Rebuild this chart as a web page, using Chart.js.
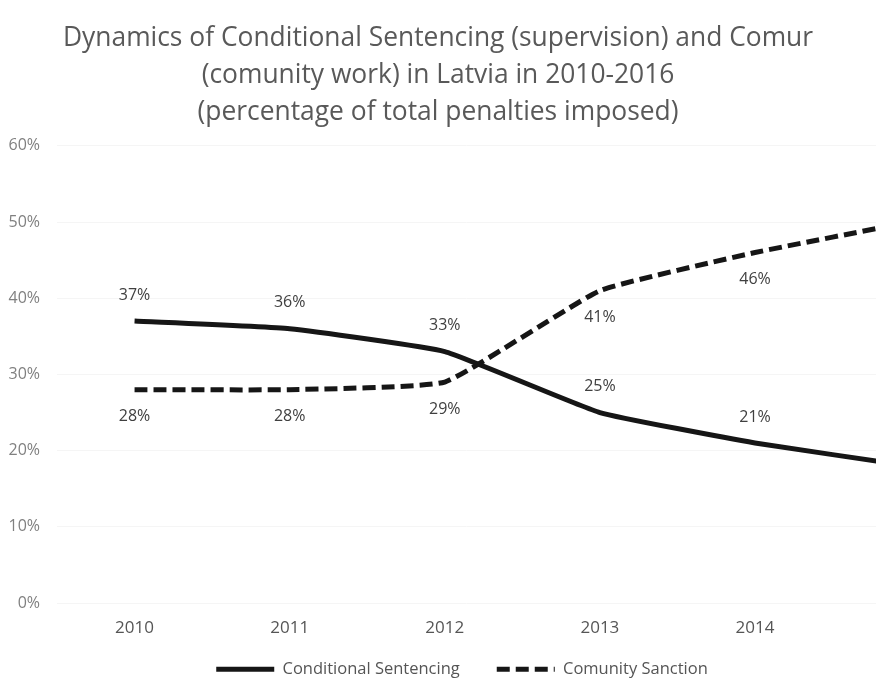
<!DOCTYPE html>
<html>
<head>
<meta charset="utf-8">
<script src="https://cdn.jsdelivr.net/npm/chart.js@4/dist/chart.umd.min.js"></script>
<style>
  html, body { margin: 0; padding: 0; background: #fff; overflow: hidden; }
  #wrap { width: 876px; height: 680px; position: relative; }
</style>
</head>
<body>
<div id="wrap"><canvas id="penaltyChart"></canvas></div>
<script>
// years shown on the axis; the series run on into 2015 past the right edge
const years = [2010, 2011, 2012, 2013, 2014];
const seriesYears = [2010, 2011, 2012, 2013, 2014, 2015];
const conditionalSentencing = [37, 36, 33, 25, 21, 18];
const comunitySanction = [28, 28, 29, 41, 46, 50];
const yTicks = [0, 10, 20, 30, 40, 50, 60];

const FONT = '"Open Sans", "Noto Sans", sans-serif';

function toPoints(values) {
    return values.map((v, i) => ({x: seriesYears[i], y: v}));
}

// percentage labels: solid line labelled above, dashed line below
const valueLabels = {
    id: 'valueLabels',
    afterDatasetsDraw(chart) {
        const ctx = chart.ctx;
        ctx.save();
        ctx.font = '16px ' + FONT;
        ctx.fillStyle = '#404040';
        ctx.textAlign = 'center';
        ctx.textBaseline = 'middle';
        chart.data.datasets.forEach((ds, i) => {
            const meta = chart.getDatasetMeta(i);
            const shift = i === 0 ? -26 : 27;
            meta.data.forEach((pt, j) => {
                if (!years.includes(ds.data[j].x)) return;
                ctx.fillText(ds.data[j].y + '%', pt.x, pt.y + shift);
            });
        });
        ctx.restore();
    }
};

// legend sits a little right of centre and tighter under the axis
const legendNudge = {
    id: 'legendNudge',
    afterLayout(chart) {
        const lg = chart.legend;
        lg.left += 24;
        lg.right += 24;
        lg.top -= 15;
        lg.bottom -= 15;
    }
};

function legendLabels(chart) {
    const items = Chart.defaults.plugins.legend.labels.generateLabels(chart);
    items.forEach((item) => {
        const ds = chart.data.datasets[item.datasetIndex];
        item.lineDash = ds.borderDash || [];
        item.lineWidth = ds.borderWidth;
        item.strokeStyle = ds.borderColor;
    });
    return items;
}

function setupChart() {
    const ctx = document.getElementById('penaltyChart');

    return new Chart(ctx, {
        type: 'line',
        data: {
            datasets: [{
                label: 'Conditional Sentencing',
                data: toPoints(conditionalSentencing),
                borderColor: '#161616',
                backgroundColor: '#161616',
                borderWidth: 5,
                pointRadius: 0,
                tension: 0.12
            }, {
                label: 'Comunity Sanction',
                data: toPoints(comunitySanction),
                borderColor: '#161616',
                backgroundColor: '#161616',
                borderWidth: 5,
                borderDash: [13, 6],
                pointRadius: 0,
                tension: 0.12
            }]
        },
        options: {
            responsive: true,
            maintainAspectRatio: false,
            animation: false,
            layout: {padding: {top: 0, left: 0, right: 0, bottom: -22.5}},
            plugins: {
                title: {
                    display: true,
                    text: [
                        'Dynamics of Conditional Sentencing (supervision) and Comur',
                        '(comunity work) in Latvia in 2010-2016',
                        '(percentage of total penalties imposed)'
                    ],
                    color: '#595959',
                    font: {family: FONT, size: 26.4, weight: 'normal', lineHeight: 1.4},
                    padding: {top: 20, bottom: 15}
                },
                legend: {
                    position: 'bottom',
                    labels: {
                        usePointStyle: true,
                        pointStyle: 'line',
                        pointStyleWidth: 58,
                        color: '#555',
                        font: {family: FONT, size: 16.5},
                        padding: 37,
                        generateLabels: legendLabels
                    }
                },
                tooltip: {enabled: false}
            },
            scales: {
                x: {
                    type: 'linear',
                    min: 2009.5,
                    max: 2014.78,
                    afterBuildTicks: (scale) => {
                        scale.ticks = years.map((v) => ({value: v}));
                    },
                    afterFit: (scale) => {
                        scale.height = 36;
                    },
                    grid: {display: false, drawTicks: false},
                    border: {display: false},
                    ticks: {
                        color: '#555',
                        font: {family: FONT, size: 17},
                        padding: 15,
                        callback: (v) => String(v)
                    }
                },
                y: {
                    min: 0,
                    max: 60,
                    afterBuildTicks: (scale) => {
                        scale.ticks = yTicks.map((v) => ({value: v}));
                    },
                    afterFit: (scale) => {
                        scale.width = 57;
                    },
                    grid: {color: '#f5f5f5', lineWidth: 1, drawTicks: false},
                    border: {display: false},
                    ticks: {
                        color: '#808080',
                        font: {family: FONT, size: 16},
                        padding: 17,
                        callback: (v) => v + '%'
                    }
                }
            }
        },
        plugins: [valueLabels, legendNudge]
    });
}

setupChart();
</script>
</body>
</html>
